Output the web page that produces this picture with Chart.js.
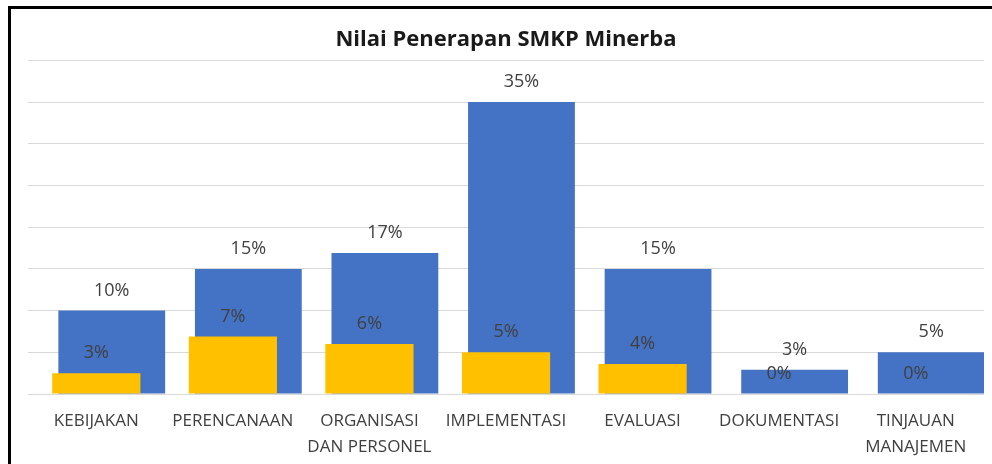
<!DOCTYPE html>
<html>
<head>
<meta charset="utf-8">
<script src="https://cdn.jsdelivr.net/npm/chart.js@4/dist/chart.umd.min.js"></script>
<style>
    html, body { margin: 0; padding: 0; background: #fff; }
    #wrap { position: relative; width: 992px; height: 464px; }
    #frame {
        position: absolute; left: 8px; top: 6px; right: -10px; bottom: -10px;
        border-left: 3px solid #000; border-top: 3px solid #000;
        pointer-events: none;
    }
</style>
</head>
<body>
<div id="wrap">
    <canvas id="smkp-chart" width="992" height="464"></canvas>
    <div id="frame"></div>
</div>
<script>
const categories = [
    'KEBIJAKAN',
    'PERENCANAAN',
    ['ORGANISASI', 'DAN PERSONEL'],
    'IMPLEMENTASI',
    'EVALUASI',
    'DOKUMENTASI',
    ['TINJAUAN', 'MANAJEMEN']
];
// percentages
const bobotValues = [10, 15, 16.9, 35, 15, 2.9, 5];
const nilaiValues = [2.5, 6.9, 6.0, 5.0, 3.6, 0, 0];
const yTicks = [0, 5, 10, 15, 20, 25, 30, 35, 40];

const FONT = '"Open Sans", "Liberation Sans", sans-serif';

// draws the "xx%" labels above each bar
const valueLabels = {
    id: 'valueLabels',
    afterDatasetsDraw (chart) {
        const { ctx } = chart;
        ctx.save();
        ctx.font = `18px ${FONT}`;
        ctx.fillStyle = '#404040';
        ctx.textAlign = 'center';
        ctx.textBaseline = 'middle';
        // blue first, yellow labels on top
        [2, 1].forEach(index => {
            const meta = chart.getDatasetMeta(index);
            const values = chart.data.datasets[index].data;
            meta.data.forEach((bar, i) => {
                ctx.fillText(`${Math.round(values[i])}%`, bar.x, bar.y - 20);
            });
        });
        ctx.restore();
    }
};

new Chart(
    document.getElementById('smkp-chart'),
    {
        type: 'bar',
        data: {
            labels: categories,
            datasets: [
                {
                    // empty slot so the yellow bar sits on the category centre
                    label: '',
                    data: categories.map(() => null)
                },
                {
                    label: 'Nilai',
                    data: nilaiValues,
                    backgroundColor: '#FFC000',
                    barPercentage: 5.7
                },
                {
                    label: 'Bobot',
                    data: bobotValues,
                    backgroundColor: '#4472C4',
                    barPercentage: 6.9
                }
            ]
        },
        plugins: [valueLabels],
        options: {
            responsive: false,
            animation: false,
            datasets: {
                bar: {
                    categoryPercentage: 0.34
                }
            },
            layout: {
                padding: { left: 28, right: 8, top: 0, bottom: 0 }
            },
            plugins: {
                legend: { display: false },
                tooltip: { enabled: false },
                title: {
                    display: true,
                    text: 'Nilai Penerapan SMKP Minerba',
                    color: '#1a1a1a',
                    font: { family: FONT, size: 22, weight: 'bold', lineHeight: 1.2 },
                    padding: { top: 27, bottom: 7 }
                }
            },
            scales: {
                x: {
                    grid: { display: false, drawTicks: false },
                    border: { display: false },
                    afterFit: axis => {
                        axis.height = 70;
                    },
                    ticks: {
                        color: '#404040',
                        padding: 14,
                        maxRotation: 0,
                        autoSkip: false,
                        font: { family: FONT, size: 17, lineHeight: '26px' }
                    }
                },
                y: {
                    min: 0,
                    max: 40,
                    afterBuildTicks: axis => {
                        axis.ticks = yTicks.map(value => ({ value }));
                    },
                    grid: { color: '#d9d9d9', lineWidth: 1, drawTicks: false },
                    border: { display: false },
                    ticks: { display: false }
                }
            }
        }
    }
);
</script>
</body>
</html>
